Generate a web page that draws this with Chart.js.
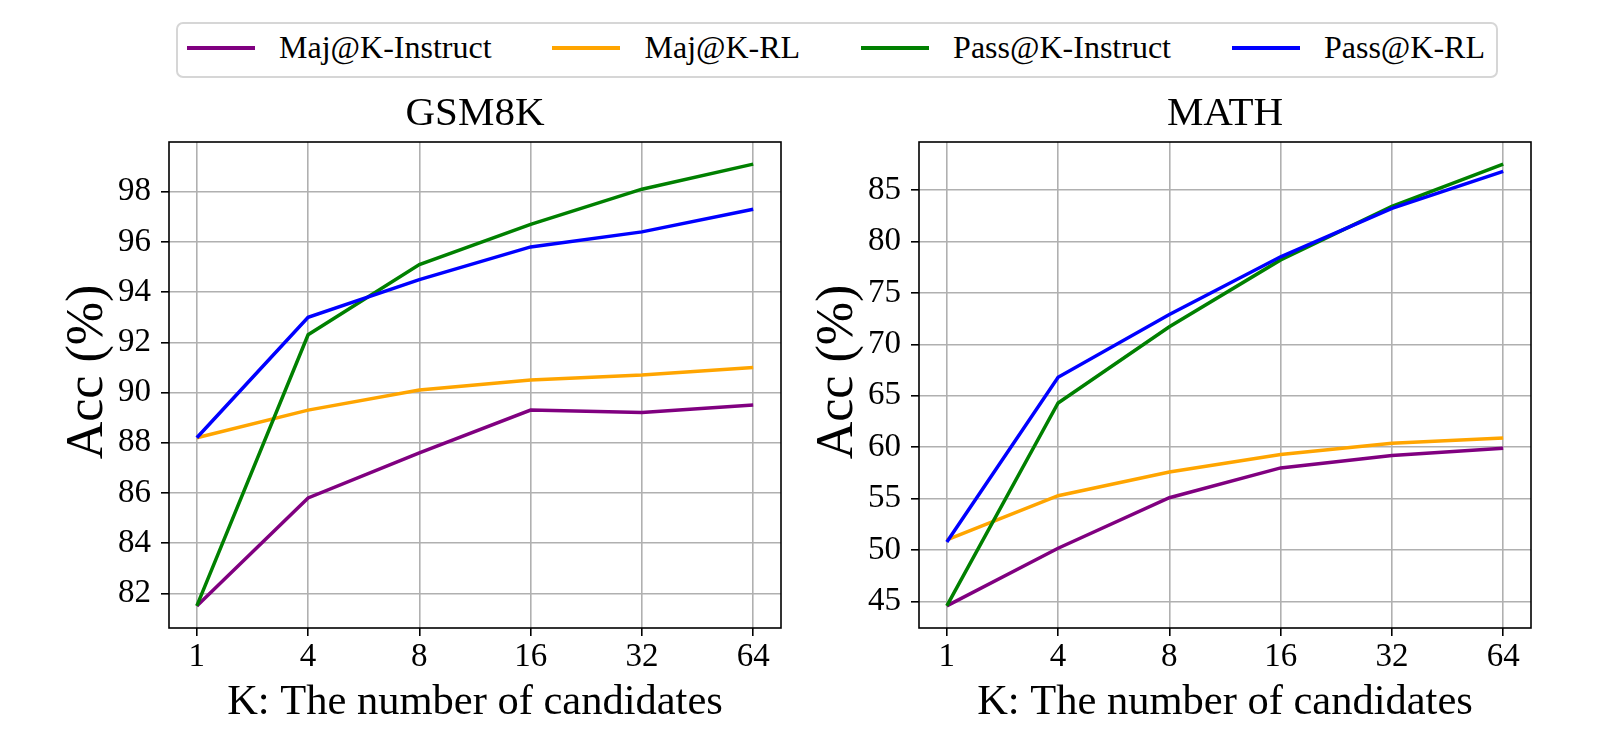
<!DOCTYPE html>
<html>
<head>
    <title>Maj@K / Pass@K</title>
    <script src="https://cdn.jsdelivr.net/npm/chart.js@4.4.1/dist/chart.umd.min.js"></script>
    <style>
        html, body { margin: 0; padding: 0; background: #fff; overflow: hidden; }
        body { width: 1600px; height: 746px; position: relative; font-family: 'Liberation Serif', 'Times New Roman', serif; }
        canvas { position: absolute; top: 0; }
        #left { left: 0; }
        #right { left: 750px; }
        .legend {
            position: absolute; left: 176px; top: 22px; width: 1322px; height: 56px;
            box-sizing: border-box; border: 2px solid #d6d6d6; border-radius: 7px;
            display: flex; align-items: center; justify-content: space-between;
            padding: 0 11px 5px 9px; background: #fff; z-index: 2;
        }
        .legend .item { display: flex; align-items: center; font-size: 32px; color: #000; white-space: nowrap; }
        .legend .swatch { width: 68px; height: 4px; margin-right: 24px; }
    </style>
</head>
<body>
    <div class="legend" id="legend"></div>
    <canvas id="left" width="800" height="746"></canvas>
    <canvas id="right" width="800" height="746"></canvas>

    <script>
        // data
        const kLabels = ['1', '4', '8', '16', '32', '64'];
        const seriesNames = ['Maj@K-Instruct', 'Maj@K-RL', 'Pass@K-Instruct', 'Pass@K-RL'];
        const seriesColors = ['#800080', '#FFA500', '#008000', '#0000FF'];

        const gsmMajInstruct = [81.5, 85.8, 87.6, 89.3, 89.2, 89.5];
        const gsmMajRL = [88.2, 89.3, 90.1, 90.5, 90.7, 91.0];
        const gsmPassInstruct = [81.5, 92.3, 95.1, 96.7, 98.1, 99.1];
        const gsmPassRL = [88.2, 93.0, 94.5, 95.8, 96.4, 97.3];

        const mathMajInstruct = [44.6, 50.2, 55.1, 58.0, 59.2, 59.9];
        const mathMajRL = [51.0, 55.3, 57.6, 59.3, 60.4, 60.9];
        const mathPassInstruct = [44.6, 64.3, 71.7, 78.2, 83.4, 87.5];
        const mathPassRL = [50.8, 66.8, 72.9, 78.5, 83.2, 86.8];

        const gsmTicks = [82, 84, 86, 88, 90, 92, 94, 96, 98];
        const gsmRange = [80.62, 99.98];
        const mathTicks = [45, 50, 55, 60, 65, 70, 75, 80, 85];
        const mathRange = [42.45, 89.65];

        Chart.defaults.font.family = "'Liberation Serif', 'Times New Roman', serif";
        Chart.defaults.color = '#000';

        // legend (shared by both panels)
        const legendEl = document.getElementById('legend');
        seriesNames.forEach((name, i) => {
            const item = document.createElement('div');
            item.className = 'item';
            item.innerHTML = `<span class="swatch" style="background:${seriesColors[i]}"></span>${name}`;
            legendEl.appendChild(item);
        });

        // box around plot area, like matplotlib spines
        const frame = {
            id: 'frame',
            afterDatasetsDraw(chart) {
                const a = chart.chartArea;
                const ctx = chart.ctx;
                ctx.save();
                ctx.strokeStyle = '#000';
                ctx.lineWidth = 1.6;
                ctx.strokeRect(a.left, a.top, a.right - a.left, a.bottom - a.top);
                ctx.restore();
            }
        };

        function makeChart(id, title, series, yTicks, yRange) {
            const datasets = series.map((vals, i) => ({
                label: seriesNames[i],
                data: vals.map((v, j) => ({ x: j, y: v })),
                borderColor: seriesColors[i],
                backgroundColor: seriesColors[i],
                borderWidth: 3.5,
                pointRadius: 0,
                tension: 0,
                fill: false,
                order: series.length - i
            }));

            return new Chart(document.getElementById(id), {
                type: 'line',
                data: { datasets },
                plugins: [frame],
                options: {
                    responsive: false,
                    animation: false,
                    devicePixelRatio: 1,
                    layout: { padding: { left: 0, right: 19, top: 0, bottom: 0 } },
                    plugins: {
                        legend: { display: false },
                        tooltip: { enabled: false },
                        title: {
                            display: true,
                            fullSize: false,
                            text: title,
                            font: { size: 41, weight: 'normal' },
                            color: '#000',
                            padding: { top: 89.9, bottom: 2.9 }
                        }
                    },
                    scales: {
                        x: {
                            type: 'linear',
                            min: -0.25,
                            max: 5.25,
                            afterBuildTicks: s => { s.ticks = kLabels.map((_, i) => ({ value: i })); },
                            afterFit: s => { s.height = 118; },
                            ticks: {
                                autoSkip: false,
                                maxRotation: 0,
                                padding: 2,
                                font: { size: 33 },
                                color: '#000',
                                callback: v => kLabels[v]
                            },
                            grid: { color: '#b0b0b0', lineWidth: 1.6, tickColor: '#000', tickLength: 8, tickWidth: 1.6 },
                            border: { display: false },
                            title: {
                                display: true,
                                text: 'K: The number of candidates',
                                font: { size: 42.5 },
                                color: '#000',
                                padding: { top: 0, bottom: 18 }
                            }
                        },
                        y: {
                            type: 'linear',
                            min: yRange[0],
                            max: yRange[1],
                            afterBuildTicks: s => { s.ticks = yTicks.map(v => ({ value: v })); },
                            afterFit: s => { s.width = 169; },
                            ticks: { padding: 10, font: { size: 33 }, color: '#000' },
                            grid: { color: '#b0b0b0', lineWidth: 1.6, tickColor: '#000', tickLength: 8, tickWidth: 1.6 },
                            border: { display: false },
                            title: {
                                display: true,
                                // two leading spaces nudge the rotated label up a little, as in the original
                                text: '  Acc (%)',
                                font: { size: 52 },
                                color: '#000',
                                padding: { top: 57, bottom: 0 }
                            }
                        }
                    }
                }
            });
        }

        makeChart('left', 'GSM8K', [gsmMajInstruct, gsmMajRL, gsmPassInstruct, gsmPassRL], gsmTicks, gsmRange);
        makeChart('right', 'MATH', [mathMajInstruct, mathMajRL, mathPassInstruct, mathPassRL], mathTicks, mathRange);
    </script>
</body>
</html>
